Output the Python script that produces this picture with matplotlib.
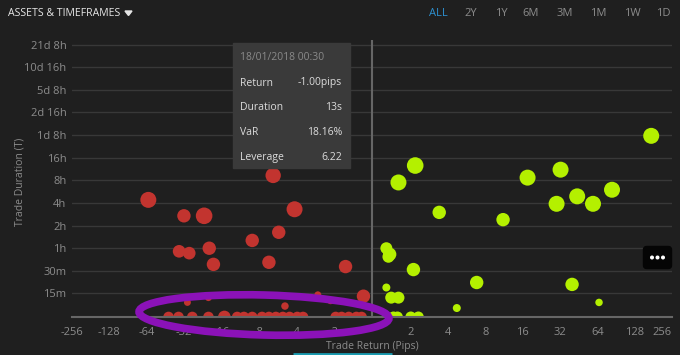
import numpy as np
import matplotlib
matplotlib.use('Agg')
import matplotlib.pyplot as plt
from matplotlib.patches import Ellipse, FancyBboxPatch, Rectangle, Polygon

plt.rcParams['font.family'] = ['Open Sans', 'DejaVu Sans']

# losing trades: return (pips), duration (hours), VaR weight (bubble size)
red_return = [-62, -32, -22, -35, -29, -20, -18.5, -9, -6.1, -4.1, -5.5, -6.6, -1.59, -1.14,
              -30, -20.3, -4.9, -2.66, -2.1,
              -42.6, -35.4, -27.4, -20.3, -15.1, -11.9, -10.5, -9.0, -7.5, -6.6,
              -5.8, -5.1, -4.5, -3.9, -3.5, -1.91, -1.71, -1.5, -1.3, -1.18]
red_duration = [4.4, 2.7, 2.7, 0.91, 0.86, 1.0, 0.61, 1.27, 9.3, 3.3, 1.63, 0.65, 0.57, 0.23,
                0.19, 0.22, 0.17, 0.24, 0.2,
                0.004, 0.004, 0.004, 0.004, 0.004, 0.004, 0.004, 0.004, 0.004, 0.004,
                0.004, 0.004, 0.004, 0.004, 0.004, 0.004, 0.004, 0.004, 0.004, 0.004]
red_var = [64, 45, 69, 40, 40, 45, 45, 45, 59, 64, 45, 45, 45, 45,
           12, 12, 14, 12, 12,
           28, 28, 28, 28, 40, 28, 28, 28, 28, 28,
           28, 28, 28, 28, 28, 28, 28, 28, 28, 28]

# winning trades
green_return = [174, 2.17, 1.59, 3.39, 17.5, 32.3, 30, 44, 59, 84, 11.1, 1.27, 1.35, 1.32,
                2.1, 1.27, 1.39, 1.59, 6.8, 40, 66, 4.7,
                1.45, 1.56, 2.0, 2.3]
green_duration = [31.3, 12.6, 7.5, 3.0, 8.7, 11.1, 3.9, 4.9, 3.9, 6.0, 2.4, 1.0, 0.83, 0.77,
                  0.52, 0.30, 0.22, 0.22, 0.35, 0.33, 0.19, 0.16,
                  0.004, 0.004, 0.004, 0.004]
green_var = [64, 69, 64, 45, 64, 64, 64, 64, 64, 64, 45, 36, 45, 36,
             45, 16, 36, 36, 45, 45, 14, 16,
             30, 30, 30, 30]

x_ticks = [-256, -128, -64, -32, -16, -8, -4, -2, 2, 4, 8, 16, 32, 64, 128, 256]
y_ticks = [0.25, 0.5, 1, 2, 4, 8, 16, 32, 64, 128, 256, 512]
y_labels = ['15m', '30m', '1h', '2h', '4h', '8h', '16h', '1d 8h', '2d 16h', '5d 8h',
            '10d 16h', '21d 8h']
periods = ['ALL', '2Y', '1Y', '6M', '3M', '1M', '1W', '1D']
period_x = [438, 471, 501, 531, 565, 598, 632, 663]

W, H = 680, 355
bg = '#1f1f1f'
fig = plt.figure(figsize=(W / 100, H / 100), dpi=100, facecolor=bg)
ax = fig.add_axes([72 / W, 38 / H, 600 / W, 277 / H], facecolor=bg)

ax.set_xscale('symlog', base=2, linthresh=1, linscale=0.02)
ax.set_yscale('symlog', base=2, linthresh=0.125, linscale=0.02)
ax.set_xlim(-256, 256)
ax.set_ylim(0, 590)

ax.scatter(red_return, red_duration, s=np.array(red_var) * 2.07, color='#c2342f',
           linewidths=0, zorder=3)
ax.scatter(green_return, green_duration, s=np.array(green_var) * 2.07, color='#b4f000',
           linewidths=0, zorder=3)

ax.set_xticks(x_ticks)
ax.set_xticklabels([str(v) for v in x_ticks])
ax.get_xticklabels()[-1].set_horizontalalignment('right')
ax.set_yticks(y_ticks)
ax.set_yticklabels(y_labels)
ax.minorticks_off()
ax.tick_params(length=0, colors='#8c8c8c', labelsize=8)
ax.tick_params(axis='x', pad=7)
ax.tick_params(axis='y', pad=4)

for yv in y_ticks:
    ax.axhline(yv, color='#383838', lw=1, zorder=1)
ax.axvline(0, color='#666666', lw=1.5, zorder=2)
for side in ['top', 'right', 'left']:
    ax.spines[side].set_visible(False)
ax.spines['bottom'].set_color('#666666')
ax.spines['bottom'].set_linewidth(1.5)
ax.spines['bottom'].set_zorder(4)

# overlay in pixel coordinates for the UI chrome
ov = fig.add_axes([0, 0, 1, 1], facecolor='none')
ov.set_xlim(0, W)
ov.set_ylim(H, 0)
ov.axis('off')

ov.text(8, 13, 'ASSETS & TIMEFRAMES', color='#e6e6e6', fontsize=7.6, va='center')
ov.add_patch(Polygon([[125, 11], [132, 11], [128.5, 15.5]], closed=True, color='#e6e6e6'))
for name, px in zip(periods, period_x):
    ov.text(px, 13, name, color='#2d90cf' if name == 'ALL' else '#8c8c8c',
            fontsize=8, ha='center', va='center')

ov.text(20, 182, 'Trade Duration (T)', color='#8c8c8c', fontsize=7.5, rotation=90,
        ha='center', va='center')
ov.text(372, 347, 'Trade Return (Pips)', color='#8c8c8c', fontsize=7.5,
        ha='center', va='center')
ov.plot([293, 392], [353.5, 353.5], color='#1a9bb0', lw=2, solid_capstyle='butt')

# tooltip
ov.add_patch(Rectangle((233, 43), 117, 125, color='#3a3a3a', zorder=5))
ov.text(240, 58, '18/01/2018 00:30', color='#8a8a8a', fontsize=7.5, va='center', zorder=6)
tip_rows = [('Return', '-1.00pips'), ('Duration', '13s'), ('VaR', '18.16%'),
            ('Leverage', '6.22')]
for i, (k, v) in enumerate(tip_rows):
    yy = 83 + i * 24.7
    ov.text(240, yy, k, color='#dcdcdc', fontsize=7.5, va='center', zorder=6)
    ov.text(342, yy, v, color='#dcdcdc', fontsize=7.5, va='center', ha='right', zorder=6)

# menu button
ov.add_patch(FancyBboxPatch((645, 248), 25, 19, boxstyle='round,pad=1.5,rounding_size=3',
                            color='#050505', zorder=5))
for dx in [652, 657.5, 663]:
    ov.add_patch(Ellipse((dx, 257.5), 2.6, 2.6, color='white', zorder=6))

# hand-drawn highlight loop
ov.add_patch(Ellipse((264, 315), 250, 40, angle=1.5, fill=False, edgecolor='#8b12b8',
                     lw=5.5, zorder=7))

fig.savefig('out.png', dpi=100, facecolor=bg)
